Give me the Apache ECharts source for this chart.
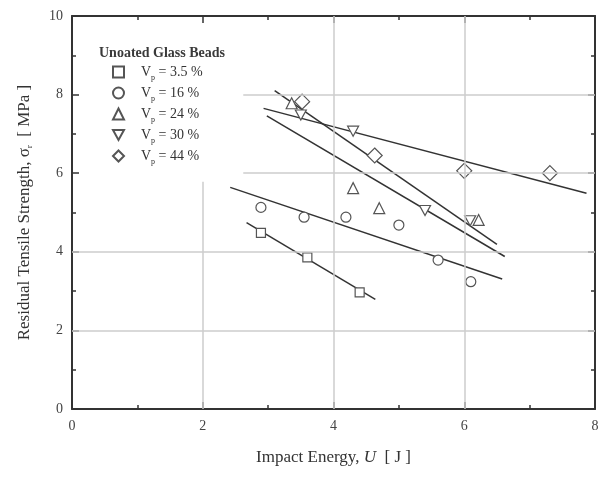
<!DOCTYPE html>
<html><head><meta charset="utf-8">
<script src="https://cdn.jsdelivr.net/npm/echarts@6/dist/echarts.min.js"></script>
<style>html,body{margin:0;padding:0;background:#fff}#c{width:602px;height:477px}</style>
</head><body><div id="c"></div>
<script>
// ---- data ----
const seriesNames = ['3.5 %', '16 %', '24 %', '30 %', '44 %'];
const vp35 = [[2.89, 4.48], [3.60, 3.86], [4.40, 2.97]];
const vp16 = [[2.89, 5.13], [3.55, 4.88], [4.19, 4.88], [5.00, 4.68], [5.60, 3.79], [6.10, 3.24]];
const vp24 = [[3.36, 7.78], [4.30, 5.62], [4.70, 5.11], [6.22, 4.81]];
const vp30 = [[3.50, 7.48], [4.30, 7.07], [5.40, 5.05], [6.09, 4.79]];
const vp44 = [[3.52, 7.82], [4.63, 6.45], [6.00, 6.06], [7.31, 6.00]];
// fitted lines (end points)
const fit35 = [[2.67, 4.74], [4.64, 2.79]];
const fit16 = [[2.42, 5.64], [6.58, 3.31]];
const fit24 = [[3.10, 8.10], [6.50, 4.19]];
const fit30 = [[2.98, 7.46], [6.62, 3.88]];
const fit44 = [[2.93, 7.65], [7.87, 5.49]];
// grid lines: [value, from, to]
const gridXLines = [[2, 0, 5.78], [4, 0, 10], [6, 0, 10]];
const gridYLines = [[2, 0, 8], [4, 0, 8], [6, 2.62, 8], [8, 2.62, 8]];
const xTicks = [0, 2, 4, 6, 8];
const yTicks = [0, 2, 4, 6, 8, 10];

const FONT = 'Liberation Serif';
const DARK = '#333';
const symbols = ['rect', 'circle', 'triangle', 'path://M0,0L10,0L5,9Z', 'diamond'];
const sizes = [9, 10, 11, [11, 10], 15];
const pts = [vp35, vp16, vp24, vp30, vp44];
const fits = [fit35, fit16, fit24, fit30, fit44];

const axisCommon = {
  type: 'value',
  axisLine: { show: true, onZero: false, lineStyle: { color: DARK, width: 2 } },
  axisTick: { show: true, inside: true, length: 7, lineStyle: { color: DARK, width: 1.5 } },
  minorTick: { show: true, splitNumber: 2, length: 4, lineStyle: { color: DARK, width: 1.5 } },
  splitLine: { show: false }
};

const series = [];
series.push({
  name: 'grid', type: 'line', data: [], silent: true, z: 0,
  markLine: {
    silent: true, symbol: 'none', label: { show: false }, animation: false,
    lineStyle: { color: '#cccccc', width: 1.5, type: 'solid' },
    data: gridXLines.map(g => [{ coord: [g[0], g[1]] }, { coord: [g[0], g[2]] }])
      .concat(gridYLines.map(g => [{ coord: [g[1], g[0]] }, { coord: [g[2], g[0]] }]))
  }
});
fits.forEach((f, i) => series.push({
  name: 'fit' + i, type: 'line', data: f, symbol: 'none', silent: true, z: 2,
  lineStyle: { color: DARK, width: 1.5 }
}));
pts.forEach((p, i) => series.push({
  name: seriesNames[i], type: 'scatter', data: p, symbol: symbols[i], symbolSize: sizes[i], z: 3,
  itemStyle: { color: '#fff', borderColor: '#555', borderWidth: 1.2, opacity: 1 }
}));

const chart = echarts.init(document.getElementById('c'), null, { renderer: 'canvas' });
chart.setOption({
  animation: false,
  backgroundColor: '#fff',
  title: {
    text: 'Unoated Glass Beads', left: 94, top: 41,
    textStyle: { fontFamily: FONT, fontSize: 14, fontWeight: 'bold', color: '#3a3a3a' }
  },
  legend: {
    orient: 'vertical', left: 112, top: 65, padding: 0, itemWidth: 11, itemHeight: 11, itemGap: 4,
    data: seriesNames, selectedMode: false,
    formatter: n => '{v|V}{s|p}{t| = ' + n + '}',
    textStyle: {
      fontFamily: FONT, fontSize: 14, color: DARK, padding: [0, 0, 0, 12],
      rich: {
        v: { fontFamily: FONT, fontSize: 14, color: DARK },
        s: { fontFamily: FONT, fontSize: 8, color: DARK, padding: [12, 0, 0, 0] },
        t: { fontFamily: FONT, fontSize: 14, color: DARK }
      }
    }
  },
  grid: { left: 72, right: 7, top: 16, bottom: 68, containLabel: false },
  xAxis: [
    Object.assign({}, axisCommon, {
      position: 'bottom', min: 0, max: 8, interval: 2,
      axisLabel: { margin: 10, fontFamily: FONT, fontSize: 14, color: '#444',
        formatter: v => xTicks.includes(v) ? String(v) : '' },
      name: 'Impact Energy, {i|U}  [ J ]', nameLocation: 'middle', nameGap: 40,
      nameTextStyle: { fontFamily: FONT, fontSize: 17, color: DARK,
        rich: { i: { fontFamily: FONT, fontSize: 17, fontStyle: 'italic', color: DARK } } }
    }),
    Object.assign({}, axisCommon, {
      position: 'top', min: 0, max: 8, interval: 2, axisLabel: { show: false }
    })
  ],
  yAxis: [
    Object.assign({}, axisCommon, {
      position: 'left', min: 0, max: 10, interval: 2,
      axisLabel: { margin: 9, fontFamily: FONT, fontSize: 14, color: '#444',
        formatter: v => yTicks.includes(v) ? String(v) : '' },
      name: 'Residual Tensile Strength, σ{s|r}  [ MPa ]', nameLocation: 'middle', nameGap: 38,
      nameTextStyle: { fontFamily: FONT, fontSize: 17, color: DARK,
        rich: { s: { fontFamily: FONT, fontSize: 9, color: DARK, padding: [10, 0, 0, 0] } } }
    }),
    Object.assign({}, axisCommon, {
      position: 'right', min: 0, max: 10, interval: 2, axisLabel: { show: false }
    })
  ],
  series: series
});
</script>
</body></html>
